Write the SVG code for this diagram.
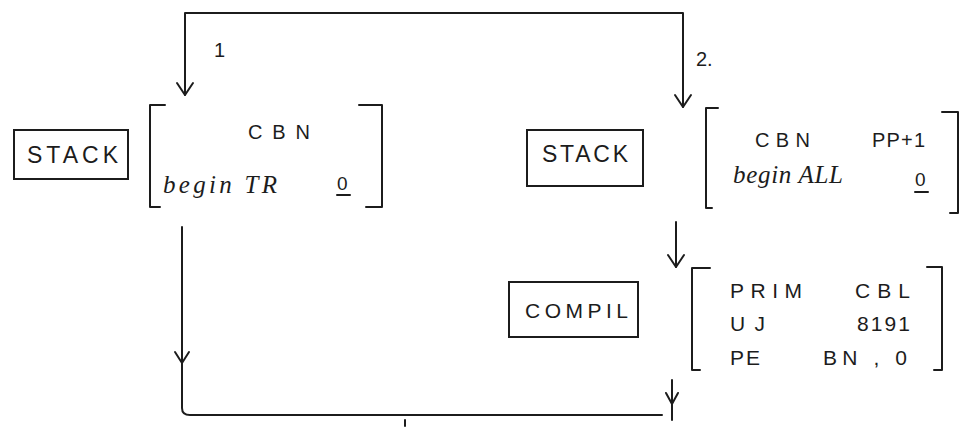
<svg xmlns="http://www.w3.org/2000/svg" width="969" height="429" viewBox="0 0 969 429">
<defs>
<marker id="ah" viewBox="-14 -10 16 20" refX="0" refY="0" markerWidth="16" markerHeight="20" markerUnits="userSpaceOnUse" orient="auto-start-reverse">
<path d="M-12,-8 L0,0 L-12,8" fill="none" stroke="#1c1c1c" stroke-width="2" stroke-linecap="round" stroke-linejoin="round"/>
</marker>
<style>
.ln{fill:none;stroke:#1c1c1c;stroke-width:2;stroke-linecap:round;stroke-linejoin:round}
.bx{fill:none;stroke:#1c1c1c;stroke-width:2}
.t{font-family:"Liberation Sans",Arial,sans-serif;fill:#1c1c1c}
.cur{font-family:"Liberation Serif","DejaVu Serif",serif;font-style:italic;fill:#1c1c1c}
</style>
</defs>
<rect width="969" height="429" fill="#ffffff"/>

<g id="connectors">
<path class="ln" d="M185,95 V13 H683 V107" marker-start="url(#ah)" marker-end="url(#ah)"/>
<path class="ln" d="M676,222 V267" marker-end="url(#ah)"/>
<path class="ln" d="M182,227 V408 Q182,415 190,415 H662"/>
<path class="ln" d="M175,352 L182,363 L189,352"/>
<path class="ln" d="M672,380 V420"/>
<path class="ln" d="M666,393 L672,404 L678,393"/>
<path class="ln" d="M405,420 V426"/>
<text class="t" x="214" y="57" font-size="20">1</text>
<text class="t" x="696" y="66" font-size="20">2.</text>
</g>

<g id="stack1">
<rect class="bx" x="14" y="130" width="114" height="49"/>
<text class="t" x="27" y="163" font-size="23" textLength="91" lengthAdjust="spacing">STACK</text>
</g>

<g id="frame1">
<path class="ln" d="M165,105 H150 V207 H160"/>
<path class="ln" d="M359,105 H382 V207 H366"/>
<text class="t" x="248" y="139" font-size="20" textLength="62" lengthAdjust="spacing">CBN</text>
<text class="cur" x="163" y="193" font-size="25" textLength="114" lengthAdjust="spacing">begin TR</text>
<text class="t" x="337" y="190" font-size="19">0</text>
<path class="ln" d="M337,195 H350"/>
</g>

<g id="stack2">
<rect class="bx" x="527" y="130" width="116" height="56"/>
<text class="t" x="542" y="162" font-size="23" textLength="86" lengthAdjust="spacing">STACK</text>
</g>

<g id="frame2">
<path class="ln" d="M718,108 H706 V208 H712"/>
<path class="ln" d="M942,112 H958 V213 H950"/>
<text class="t" x="755" y="147" font-size="20" textLength="55" lengthAdjust="spacing">CBN</text>
<text class="t" x="872" y="147" font-size="20" textLength="53" lengthAdjust="spacing">PP+1</text>
<text class="cur" x="733" y="183" font-size="25" textLength="110" lengthAdjust="spacing">begin ALL</text>
<text class="t" x="915" y="186" font-size="19">0</text>
<path class="ln" d="M915,192 H928"/>
</g>

<g id="compil">
<rect class="bx" x="509" y="282" width="129" height="55"/>
<text class="t" x="525" y="318" font-size="21" textLength="103" lengthAdjust="spacing">COMPIL</text>
</g>

<g id="frame3">
<path class="ln" d="M710,268 H692 V370 H700"/>
<path class="ln" d="M927,267 H942 V370 H934"/>
<text class="t" x="730" y="298" font-size="21" textLength="72" lengthAdjust="spacing">PRIM</text>
<text class="t" x="855" y="298" font-size="21" textLength="55" lengthAdjust="spacing">CBL</text>
<text class="t" x="730" y="331" font-size="21" textLength="35" lengthAdjust="spacing">UJ</text>
<text class="t" x="857" y="331" font-size="21" textLength="53" lengthAdjust="spacing">8191</text>
<text class="t" x="730" y="365" font-size="21" textLength="30" lengthAdjust="spacing">PE</text>
<text class="t" x="823" y="365" font-size="21" textLength="84" lengthAdjust="spacing">BN , 0</text>
</g>
</svg>
